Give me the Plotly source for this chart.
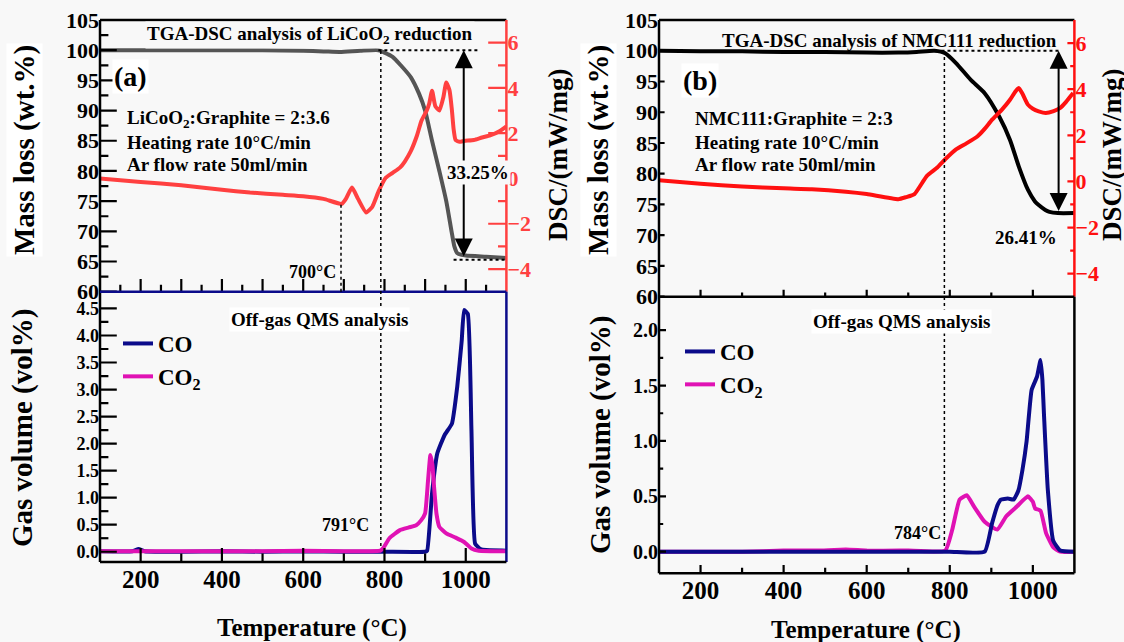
import plotly.graph_objects as go

# ---------------- data ----------------
# (a) LiCoO2 TGA / DSC
t_tga_a = [100, 200, 300, 400, 500, 600, 650, 690, 740, 785, 800, 820, 840, 865, 885, 900, 917, 935, 952, 965, 972, 979, 990, 1000, 1050, 1100]
tga_a = [100, 100, 100, 100, 100, 99.9, 99.8, 99.7, 99.9, 100, 99.6, 98.9, 97.5, 95.5, 92.8, 90, 85, 80, 75, 70, 67.5, 66.4, 66.1, 66.0, 65.8, 65.6]
t_dsc_a = [100, 200, 300, 400, 469, 550, 600, 650, 695, 705, 720, 735, 755, 770, 786, 803, 820, 838, 850, 865, 880, 891, 904, 910, 917, 925, 935, 945, 952, 960, 966, 970, 975, 985, 996, 1020, 1040, 1060, 1084, 1100]
dsc_a = [0, -0.15, -0.3, -0.5, -0.62, -0.72, -0.78, -0.9, -1.12, -0.9, -0.4, -0.9, -1.5, -1.25, -0.55, 0.03, 0.25, 0.48, 0.75, 1.22, 1.9, 2.55, 3.0, 3.3, 3.88, 3.2, 3.0, 3.6, 4.24, 3.9, 3.0, 2.2, 1.7, 1.62, 1.66, 1.7, 1.81, 1.9, 2.1, 2.3]
# (a) off-gas
t_co_a = [100, 180, 195, 210, 300, 400, 500, 600, 700, 800, 900, 905, 917, 930, 948, 966, 979, 990, 996, 1005, 1014, 1023, 1036, 1050, 1100]
co_a = [0.01, 0.01, 0.05, 0.01, 0.0, 0.01, 0.0, 0.01, 0.0, 0.0, 0.0, 0.02, 1.08, 1.82, 2.16, 2.37, 3.05, 3.9, 4.47, 4.4, 2.25, 0.15, 0.05, 0.03, 0.02]
t_co2_a = [100, 200, 300, 400, 500, 600, 700, 790, 799, 812, 838, 860, 878, 890, 900, 907, 913, 918, 922, 928, 935, 952, 975, 996, 1005, 1014, 1032, 1100]
co2_a = [0.01, 0.01, 0.01, 0.01, 0.01, 0.02, 0.01, 0.02, 0.09, 0.25, 0.40, 0.45, 0.49, 0.58, 0.71, 1.3, 1.79, 1.6, 1.2, 0.7, 0.46, 0.34, 0.26, 0.18, 0.12, 0.06, 0.02, 0.01]

# (b) NMC111 TGA / DSC
t_tga_b = [100, 200, 300, 400, 500, 600, 676, 720, 763, 789, 815, 850, 884, 919, 945, 966, 988, 1005, 1014, 1030, 1040, 1060, 1100]
tga_b = [100, 99.9, 99.9, 99.8, 99.8, 99.7, 99.7, 99.8, 100, 99.6, 98, 95.3, 93.1, 89.3, 85.5, 81.2, 77.4, 75.5, 74.9, 74.1, 73.8, 73.6, 73.6]
t_dsc_b = [100, 200, 300, 400, 468, 550, 600, 676, 695, 715, 745, 770, 789, 815, 840, 867, 885, 902, 925, 945, 958, 966, 975, 988, 1000, 1014, 1031, 1050, 1066, 1080, 1097]
dsc_b = [0.05, -0.1, -0.22, -0.3, -0.34, -0.45, -0.55, -0.77, -0.68, -0.55, 0.24, 0.6, 0.96, 1.39, 1.65, 1.96, 2.3, 2.68, 3.1, 3.54, 3.9, 4.05, 3.8, 3.33, 3.15, 3.04, 2.97, 3.05, 3.19, 3.45, 3.83]
# (b) off-gas
t_co_b = [100, 200, 300, 400, 500, 600, 700, 800, 884, 902, 915, 923, 940, 953.5, 965, 975, 985, 997, 1010, 1018.5, 1023, 1027, 1036, 1049, 1066, 1100]
co_b = [0, 0, 0, 0, 0, 0, 0, 0, 0, 0.26, 0.42, 0.47, 0.48, 0.47, 0.55, 0.74, 1.0, 1.46, 1.58, 1.73, 1.55, 1.22, 0.56, 0.10, 0.01, 0.0]
t_co2_b = [100, 200, 300, 400, 480, 550, 600, 680, 700, 789, 806, 823.6, 841, 858, 884, 914.5, 936, 962, 988, 1000, 1005.5, 1018.5, 1031.6, 1049, 1066, 1100]
co2_b = [0, 0, 0, 0.01, 0.01, 0.02, 0.01, 0.01, 0.01, 0.01, 0.2, 0.47, 0.51, 0.41, 0.27, 0.2, 0.32, 0.41, 0.5, 0.45, 0.39, 0.37, 0.17, 0.04, 0.0, 0.0]

# tick values
x_ticks = [200, 400, 600, 800, 1000]
x_hundreds = [200, 300, 400, 500, 600, 700, 800, 900, 1000]
x_fifties = [150, 250, 350, 450, 550, 650, 750, 850, 950, 1050]
x_odd_hundreds = [300, 500, 700, 900]
mass_ticks = [60, 65, 70, 75, 80, 85, 90, 95, 100, 105]
mass_minor = [62.5, 67.5, 72.5, 77.5, 82.5, 87.5, 92.5, 97.5, 102.5]
dsc_ticks = [-4, -2, 0, 2, 4, 6]
dsc_minor = [-3, -1, 1, 3, 5]
gas_ticks_a = [0, 0.5, 1.0, 1.5, 2.0, 2.5, 3.0, 3.5, 4.0, 4.5]
gas_minor_a = [0.25, 0.75, 1.25, 1.75, 2.25, 2.75, 3.25, 3.75, 4.25]
gas_ticks_b = [0, 0.5, 1.0, 1.5, 2.0]
gas_minor_b = [0.25, 0.75, 1.25, 1.75]

# axis ranges
T_RANGE = [100, 1100]
MASS_RANGE = [60, 105]
DSC_RANGE = [-5, 7]
GAS_RANGE_A = [-0.19, 4.81]
GAS_RANGE_B = [-0.195, 2.302]

# ---------------- style ----------------
W, H = 1124, 642
FONT = "Liberation Serif, Times New Roman, serif"
BG = "#f8f8f8"
GRAY = "#555555"
RED_A = "#ff4040"
RED_B = "#ff1010"
NAVY = "#0b0b8a"
MAG = "#e012b4"
SP = "\u2002"


def px(x):
    return x / W


def py(y):
    return 1 - y / H


def bf(size, color="black"):
    return dict(family=FONT, size=size, color=color, weight="bold")


fig = go.Figure()

line_kw = dict(mode="lines", line_shape="spline")
fig.add_trace(go.Scatter(x=t_tga_a, y=tga_a, xaxis="x", yaxis="y", line=dict(color=GRAY, width=4, smoothing=0.6), showlegend=False, **line_kw))
fig.add_trace(go.Scatter(x=t_dsc_a, y=dsc_a, xaxis="x", yaxis="y2", line=dict(color=RED_A, width=4, smoothing=0.5), showlegend=False, **line_kw))
fig.add_trace(go.Scatter(x=t_co_a, y=co_a, xaxis="x2", yaxis="y3", name="CO", legend="legend", line=dict(color=NAVY, width=4, smoothing=0.4), **line_kw))
fig.add_trace(go.Scatter(x=t_co2_a, y=co2_a, xaxis="x2", yaxis="y3", name="CO<sub>2</sub>", legend="legend", line=dict(color=MAG, width=4, smoothing=0.4), **line_kw))

fig.add_trace(go.Scatter(x=t_tga_b, y=tga_b, xaxis="x3", yaxis="y4", line=dict(color="black", width=4, smoothing=0.6), showlegend=False, **line_kw))
fig.add_trace(go.Scatter(x=t_dsc_b, y=dsc_b, xaxis="x3", yaxis="y5", line=dict(color=RED_B, width=4, smoothing=0.5), showlegend=False, **line_kw))
fig.add_trace(go.Scatter(x=t_co2_b, y=co2_b, xaxis="x4", yaxis="y6", name="CO<sub>2</sub>", legend="legend2", legendrank=2, line=dict(color=MAG, width=4, smoothing=0.4), **line_kw))
fig.add_trace(go.Scatter(x=t_co_b, y=co_b, xaxis="x4", yaxis="y6", name="CO", legend="legend2", legendrank=1, line=dict(color=NAVY, width=4, smoothing=0.4), **line_kw))


# inside tick marks: line markers centred on the axis edge, the outer half clipped away by the plot area
def tick_marks(xs, ys, xa_, ya_, symbol, length, color="black"):
    fig.add_trace(go.Scatter(x=xs, y=ys, xaxis=xa_, yaxis=ya_, mode="markers", showlegend=False, hoverinfo="skip",
                             cliponaxis=True,
                             marker=dict(symbol=symbol, size=2 * length, color=color, line=dict(color=color, width=2.2))))


def xt(vals, xa_, ya_, edge_val, length, color="black"):
    tick_marks(vals, [edge_val] * len(vals), xa_, ya_, "line-ns", length, color)


def yt(vals, xa_, ya_, edge_val, length, color="black"):
    tick_marks([edge_val] * len(vals), vals, xa_, ya_, "line-ew", length, color)


# panel (a)
xt(x_hundreds, "x", "y", MASS_RANGE[0], 9)
xt(x_fifties, "x", "y", MASS_RANGE[0], 5)
yt(mass_ticks, "x", "y", T_RANGE[0], 12)
yt(mass_minor, "x", "y", T_RANGE[0], 6)
yt(dsc_ticks, "x", "y2", T_RANGE[1], 13, RED_A)
yt(dsc_minor, "x", "y2", T_RANGE[1], 6, RED_A)
xt(x_ticks, "x2", "y3", GAS_RANGE_A[0], 10)
xt(x_odd_hundreds, "x2", "y3", GAS_RANGE_A[0], 6)
yt(gas_ticks_a, "x2", "y3", T_RANGE[0], 12)
yt(gas_minor_a, "x2", "y3", T_RANGE[0], 6)
# panel (b)
xt(x_ticks, "x3", "y4", MASS_RANGE[0], 5)
xt(x_odd_hundreds, "x3", "y4", MASS_RANGE[0], 3)
yt(mass_ticks, "x3", "y4", T_RANGE[0], 4)
yt(dsc_ticks, "x3", "y5", T_RANGE[1], 5, RED_B)
yt(dsc_minor, "x3", "y5", T_RANGE[1], 3, RED_B)
xt(x_ticks, "x4", "y6", GAS_RANGE_B[0], 6)
xt(x_odd_hundreds, "x4", "y6", GAS_RANGE_B[0], 4)
yt(gas_ticks_b, "x4", "y6", T_RANGE[0], 5)
yt(gas_minor_b, "x4", "y6", T_RANGE[0], 3)

# domains (pixel based)
xa = [px(100), px(506.4)]
xb = [px(659), px(1074.4)]
ya_top = [py(291.7), py(20)]
ya_bot = [py(562), py(291.7)]
yb_top = [py(296.7), py(20)]
yb_bot = [py(573.3), py(296.7)]

common = dict(showgrid=False, zeroline=False, showline=False, ticks="")

fig.update_layout(
    template="none",
    width=W, height=H, margin=dict(l=0, r=0, t=0, b=0),
    paper_bgcolor=BG, plot_bgcolor=BG,
    font=dict(family=FONT, color="black"),
    # ---- (a) top
    xaxis=dict(domain=xa, anchor="y", range=T_RANGE, showticklabels=False, **common),
    yaxis=dict(domain=ya_top, anchor="x", range=MASS_RANGE, tickvals=mass_ticks, tickfont=bf(22), ticksuffix=SP, **common),
    yaxis2=dict(overlaying="y", anchor="x", side="right", range=DSC_RANGE, tickvals=dsc_ticks,
                tickfont=bf(22, RED_A), tickprefix=SP, **common),
    # ---- (a) bottom
    xaxis2=dict(domain=xa, anchor="y3", range=T_RANGE, tickvals=x_ticks, tickfont=bf(25), **common),
    yaxis3=dict(domain=ya_bot, anchor="x2", range=GAS_RANGE_A, tickvals=gas_ticks_a, tickformat=".1f",
                tickfont=bf(18), ticksuffix=SP, **common),
    # ---- (b) top
    xaxis3=dict(domain=xb, anchor="y4", range=T_RANGE, showticklabels=False, **common),
    yaxis4=dict(domain=yb_top, anchor="x3", range=MASS_RANGE, tickvals=mass_ticks, tickfont=bf(22), **common),
    yaxis5=dict(overlaying="y4", anchor="x3", side="right", range=DSC_RANGE, tickvals=dsc_ticks,
                tickfont=bf(22, RED_B), **common),
    # ---- (b) bottom
    xaxis4=dict(domain=xb, anchor="y6", range=T_RANGE, tickvals=x_ticks, tickfont=bf(25), **common),
    yaxis6=dict(domain=yb_bot, anchor="x4", range=GAS_RANGE_B, tickvals=gas_ticks_b, tickformat=".1f",
                tickfont=bf(20), **common),
    legend=dict(x=px(118), y=py(322), xanchor="left", yanchor="top", bgcolor="rgba(0,0,0,0)",
                font=bf(23), tracegroupgap=0, itemwidth=30),
    legend2=dict(x=px(680), y=py(330), xanchor="left", yanchor="top", bgcolor="rgba(0,0,0,0)",
                 font=bf(23), tracegroupgap=0, itemwidth=30, traceorder="normal"),
)

shapes = []


def edge(x0, y0, x1, y1, color):
    shapes.append(dict(type="line", xref="paper", yref="paper", x0=x0, y0=y0, x1=x1, y1=y1,
                       line=dict(color=color, width=2.5)))


# frames, panel (a)
edge(xa[0], ya_top[1], xa[1], ya_top[1], "black")          # top
edge(xa[0], ya_bot[0], xa[0], ya_top[1], "black")          # left
edge(xa[1], ya_top[0], xa[1], ya_top[1], RED_A)            # right (DSC)
edge(xa[1], ya_bot[0], xa[1], ya_bot[1], NAVY)             # right (bottom)
edge(xa[0], ya_top[0], xa[1], ya_top[0], NAVY)             # divider
edge(xa[0], ya_bot[0], xa[1], ya_bot[0], "black")          # bottom
# frames, panel (b)
edge(xb[0], yb_top[1], xb[1], yb_top[1], "black")
edge(xb[0], yb_bot[0], xb[0], yb_top[1], "black")
edge(xb[1], yb_top[0], xb[1], yb_top[1], RED_B)
edge(xb[1], yb_bot[0], xb[1], yb_bot[1], "black")
edge(xb[0], yb_top[0], xb[1], yb_top[0], "black")
edge(xb[0], yb_bot[0], xb[1], yb_bot[0], "black")

dot = dict(color="black", width=2, dash="dot")
# (a) dotted guides
shapes.append(dict(type="line", xref="x", yref="y", x0=785, x1=1036, y0=100, y1=100, line=dot))
shapes.append(dict(type="line", xref="x", yref="y", x0=970, x1=1100, y0=65.3, y1=65.3, line=dot))
shapes.append(dict(type="line", xref="x", yref="paper", x0=693, x1=693, y0=py(291.7), y1=py(203), line=dict(color="black", width=1.5, dash="dot")))
shapes.append(dict(type="line", xref="x", yref="paper", x0=791, x1=791, y0=py(546), y1=py(49), line=dict(color="black", width=1.5, dash="dot")))
# (b) dotted guides
shapes.append(dict(type="line", xref="x3", yref="y4", x0=780, x1=1066, y0=100, y1=100, line=dot))
shapes.append(dict(type="line", xref="x3", yref="paper", x0=787, x1=787, y0=py(546), y1=py(50), line=dict(color="black", width=1.5, dash="dot")))
fig.update_layout(shapes=shapes)

ann = []


def txt(x, y, s, size, xanchor="center", color="black", bg=None, angle=0):
    d = dict(x=px(x), y=py(y), xref="paper", yref="paper", text=s, showarrow=False, xanchor=xanchor,
             yanchor="middle", font=bf(size, color), textangle=angle)
    if bg:
        d["bgcolor"] = bg
    ann.append(d)


# arrows (double-headed)
ann.append(dict(x=995, y=100, ax=995, ay=65.6, xref="x", yref="y", axref="x", ayref="y", text="", showarrow=True,
                arrowhead=2, startarrowhead=2, arrowside="end+start", arrowsize=1.8, startarrowsize=1.8, arrowwidth=2, arrowcolor="black"))
ann.append(dict(x=1062, y=100, ax=1062, ay=73.7, xref="x3", yref="y4", axref="x3", ayref="y4", text="", showarrow=True,
                arrowhead=2, startarrowhead=2, arrowside="end+start", arrowsize=1.8, startarrowsize=1.8, arrowwidth=2, arrowcolor="black"))

# panel (a)
txt(310, 35, "TGA-DSC analysis of LiCoO<sub>2</sub> reduction", 19, bg=BG)
txt(130, 77, "(a)", 28, bg="white")
txt(125, 119, "LiCoO<sub>2</sub>:Graphite = 2:3.6", 19, xanchor="left")
txt(125, 142, "Heating rate 10°C/min", 19, xanchor="left")
txt(125, 165, "Ar flow rate 50ml/min", 19, xanchor="left")
txt(478, 172, "33.25%", 19, bg=BG)
txt(312, 272, "700°C", 18)
txt(319, 319, "Off-gas QMS analysis", 19, bg="white")
txt(345, 525, "791°C", 18)
txt(24, 150, "Mass loss (wt.%)", 29, angle=-90, bg="white")
txt(22, 428, "Gas volume (vol%)", 29, angle=-90)
txt(558, 155, "DSC/(mW/mg)", 27, angle=-90)
txt(312, 628, "Temperature (°C)", 25)

# panel (b)
txt(890, 40, "TGA-DSC analysis of NMC111 reduction", 19)
txt(700, 80, "(b)", 28, bg="white")
txt(693, 118, "NMC111:Graphite = 2:3", 19, xanchor="left")
txt(693, 142, "Heating rate 10°C/min", 19, xanchor="left")
txt(693, 165, "Ar flow rate 50ml/min", 19, xanchor="left")
txt(1026, 237, "26.41%", 19)
txt(901, 322, "Off-gas QMS analysis", 19, bg="white")
txt(917, 533, "784°C", 18)
txt(598, 150, "Mass loss (wt.%)", 29, angle=-90, bg="white")
txt(600, 435, "Gas volume (vol%)", 29, angle=-90)
txt(1112, 155, "DSC/(mW/mg)", 27, angle=-90)
txt(866, 630, "Temperature (°C)", 25)

fig.update_layout(annotations=ann)

fig.write_html("out.html")
